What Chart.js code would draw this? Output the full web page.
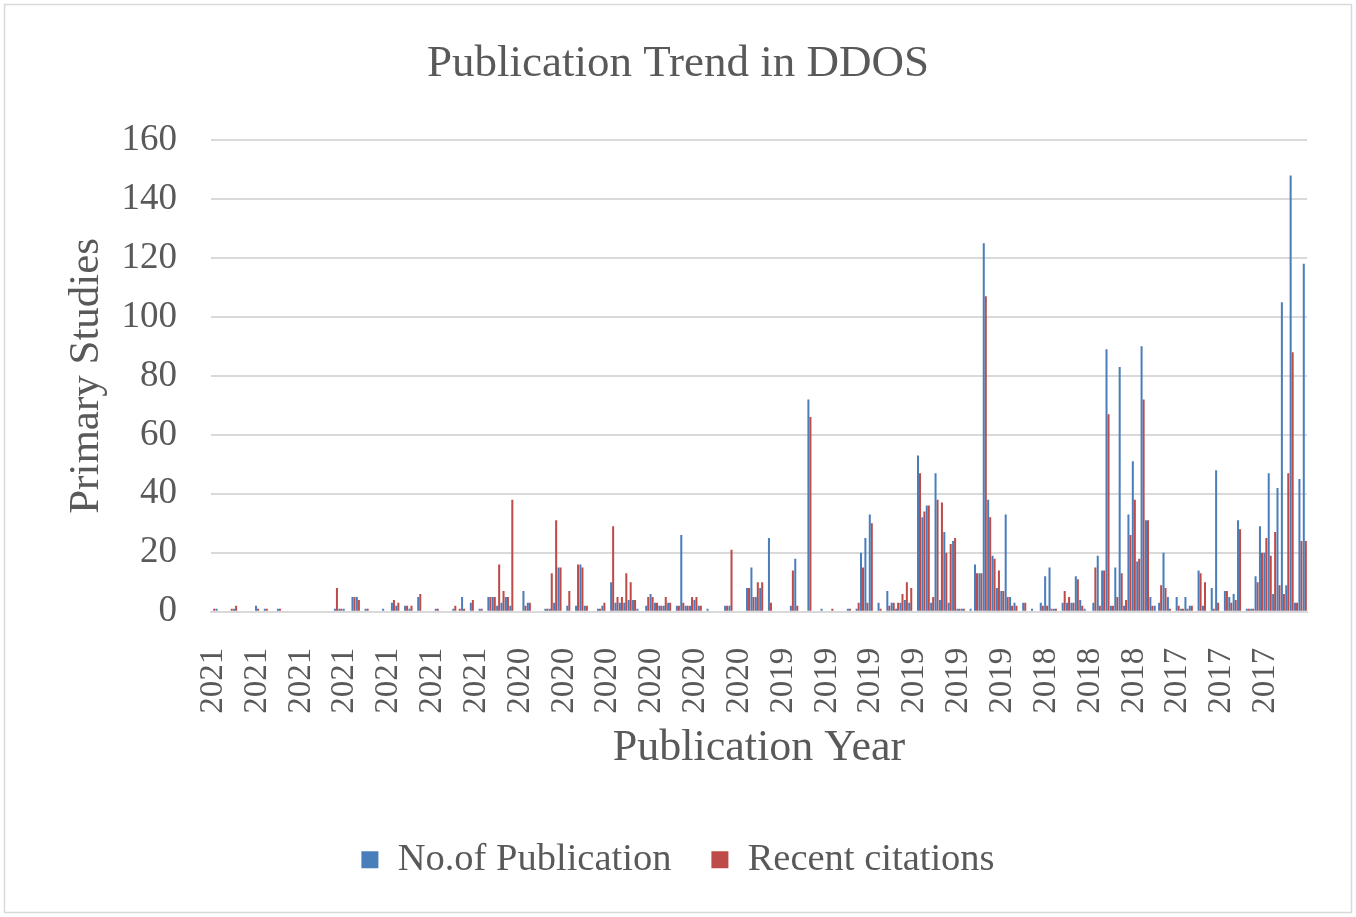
<!DOCTYPE html>
<html>
<head>
<meta charset="utf-8">
<title>Publication Trend in DDOS</title>
<script src="https://cdn.jsdelivr.net/npm/chart.js@4/dist/chart.umd.min.js"></script>
<style>
  html, body { margin: 0; padding: 0; background: #ffffff; }
  #wrap { position: relative; width: 1356px; height: 917px; }
</style>
</head>
<body>
<div id="wrap"><canvas id="chart" width="1356" height="917"></canvas></div>
<script>
// Year groups along the horizontal axis (label, number of categories)
const yearGroups = [["2021", 70], ["2020", 60], ["2019", 60], ["2018", 30], ["2017", 30]];
const labelEvery = 10;

// No.of Publication per category
const publications = [
  0,1,0,0,0,1,0,0,0,0,
  2,0,1,0,0,1,0,0,0,0,
  0,0,0,0,0,0,0,0,1,1,
  1,0,5,5,0,1,0,0,0,1,
  0,3,2,0,2,1,0,5,0,0,
  0,1,0,0,0,1,0,5,0,3,
  0,1,0,5,5,2,3,5,2,0,
  0,7,3,0,0,0,1,1,3,15,
  0,2,0,2,16,2,0,0,1,2,
  0,10,3,3,3,4,4,1,0,2,
  6,3,2,2,3,0,2,26,2,2,
  4,2,0,1,0,0,0,2,2,0,
  0,0,8,15,5,8,0,25,0,0,
  0,0,2,18,0,0,72,0,0,1,
  0,0,0,0,0,1,0,1,20,25,
  33,0,3,0,7,3,1,3,4,3,
  0,53,32,36,3,47,4,27,3,24,
  1,1,0,1,16,13,125,38,19,8,
  7,33,5,3,0,3,0,1,0,3,
  12,15,1,0,3,3,3,12,4,1,
  0,3,19,14,89,2,15,83,2,33,
  51,17,90,31,5,2,3,20,5,0,
  5,1,5,2,0,14,2,0,8,48,
  0,7,5,6,31,0,1,1,12,29,
  20,47,6,42,105,9,148,3,45,118
];

// Recent citations per category
const citations = [
  1,0,0,0,1,2,0,0,0,0,
  1,0,1,0,0,1,0,0,0,0,
  0,0,0,0,0,0,0,0,8,1,
  0,0,5,4,0,1,0,0,0,0,
  0,4,3,0,2,2,0,6,0,0,
  0,1,0,0,0,2,1,1,0,4,
  0,1,0,5,5,16,7,5,38,0,
  0,2,3,0,0,0,1,13,31,15,
  0,7,0,16,15,2,0,0,1,3,
  0,29,5,5,13,10,4,0,0,5,
  5,3,2,5,3,0,2,3,2,5,
  5,2,0,0,0,0,0,2,21,0,
  0,0,8,5,10,10,0,3,0,0,
  0,0,14,2,0,0,66,0,0,0,
  0,1,0,0,0,1,0,3,15,3,
  30,0,1,0,2,3,3,6,10,8,
  0,47,34,36,5,38,37,20,23,25,
  1,1,0,0,13,13,107,32,18,14,
  7,5,2,2,0,3,0,0,0,2,
  2,1,1,0,7,5,3,11,2,0,
  0,15,2,14,67,2,5,13,4,26,
  38,18,72,31,2,0,9,8,1,0,
  2,1,1,2,0,13,10,0,1,3,
  0,7,3,4,28,0,1,1,10,20,
  25,19,27,9,6,47,88,3,24,24
];

// Y axis range
const yMin = 0, yMax = 160, yStep = 20;

// One category label per entry, taken from the year groups
const categories = [];
yearGroups.forEach(([year, count]) => { for (let i = 0; i < count; i++) categories.push(year); });

const serif = "'Liberation Serif', 'Times New Roman', serif";
const textGrey = '#595959';

// White background and thin frame round the whole chart
const framePlugin = {
  id: 'frame',
  beforeDraw(chart) {
    const ctx = chart.ctx;
    ctx.save();
    ctx.fillStyle = '#ffffff';
    ctx.fillRect(0, 0, chart.width, chart.height);
    ctx.strokeStyle = '#d9d9d9';
    ctx.lineWidth = 1.5;
    ctx.strokeRect(4.5, 4.5, chart.width - 9, chart.height - 9);
    ctx.restore();
  }
};

new Chart(document.getElementById('chart'), {
  type: 'bar',
  data: {
    labels: categories,
    datasets: [
      { label: 'No.of Publication', data: publications, backgroundColor: '#4A7EBB', borderWidth: 0 },
      { label: 'Recent citations', data: citations, backgroundColor: '#BE4B48', borderWidth: 0 }
    ]
  },
  options: {
    responsive: false,
    animation: false,
    datasets: { bar: { barPercentage: 1.0, categoryPercentage: 0.92 } },
    layout: { padding: { left: 49, right: 49, top: 37, bottom: 28 } },
    plugins: {
      title: {
        display: true,
        text: 'Publication Trend in DDOS',
        color: textGrey,
        font: { family: serif, size: 45, weight: 'normal' },
        padding: { top: 0, bottom: 49 }
      },
      legend: {
        position: 'bottom',
        labels: {
          color: textGrey,
          font: { family: serif, size: 38.5 },
          boxWidth: 17,
          boxHeight: 17,
          padding: 40
        }
      },
      tooltip: { enabled: false }
    },
    scales: {
      x: {
        grid: { display: false },
        border: { color: '#d9d9d9', width: 2 },
        afterFit: (scale) => { scale.height -= 26; },
        ticks: {
          autoSkip: false,
          minRotation: 90,
          maxRotation: 90,
          color: textGrey,
          padding: 28,
          font: { family: serif, size: 33 },
          callback: (value, index) => (index % labelEvery === 0 ? categories[index] : null)
        },
        title: {
          display: true,
          text: 'Publication Year',
          color: textGrey,
          font: { family: serif, size: 44 },
          padding: { top: 6, bottom: 26 }
        }
      },
      y: {
        min: yMin,
        max: yMax,
        border: { display: false },
        grid: { color: '#d9d9d9', lineWidth: 2, drawTicks: false },
        afterFit: (scale) => { scale.width = 162; },
        ticks: {
          stepSize: yStep,
          color: textGrey,
          padding: 34,
          font: { family: serif, size: 37 }
        },
        title: {
          display: true,
          text: 'Primary Studies',
          color: textGrey,
          font: { family: serif, size: 43 },
          padding: { top: 12, bottom: 0 }
        }
      }
    }
  },
  plugins: [framePlugin]
});
</script>
</body>
</html>
